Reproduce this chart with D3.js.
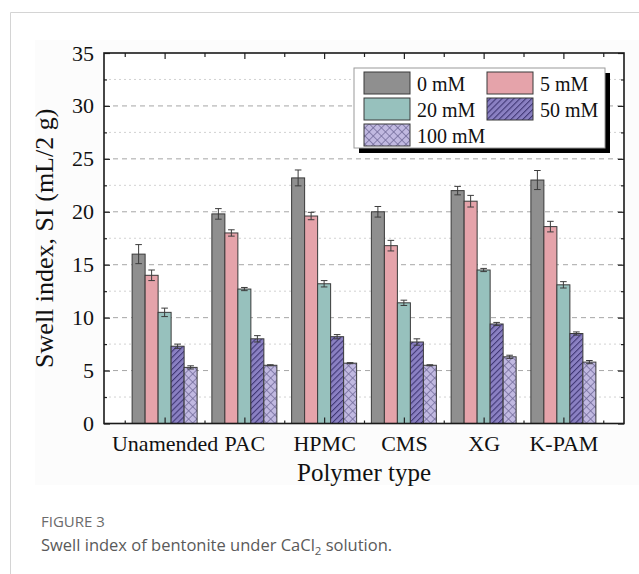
<!DOCTYPE html>
<html>
<head>
<meta charset="utf-8">
<script src="https://cdn.jsdelivr.net/npm/d3@7"></script>
<style>
  body { margin: 0; background: #ffffff; }
  svg { display: block; }
</style>
</head>
<body>
<svg id="chart" width="639" height="574"></svg>
<script>
// Swell index (mL/2 g) of bentonite with different polymers, by CaCl2 concentration
const categories = ["Unamended", "PAC", "HPMC", "CMS", "XG", "K-PAM"];
const seriesNames = ["0 mM", "5 mM", "20 mM", "50 mM", "100 mM"];

const si0mM   = [16.0, 19.8, 23.2, 20.0, 22.0, 23.0];
const si5mM   = [14.0, 18.0, 19.6, 16.8, 21.0, 18.6];
const si20mM  = [10.5, 12.7, 13.2, 11.4, 14.5, 13.1];
const si50mM  = [7.3, 8.0, 8.2, 7.7, 9.4, 8.5];
const si100mM = [5.3, 5.5, 5.7, 5.5, 6.3, 5.8];

const err0mM   = [0.9, 0.5, 0.75, 0.5, 0.4, 0.9];
const err5mM   = [0.5, 0.3, 0.35, 0.5, 0.55, 0.5];
const err20mM  = [0.4, 0.15, 0.3, 0.25, 0.15, 0.3];
const err50mM  = [0.2, 0.3, 0.2, 0.3, 0.15, 0.15];
const err100mM = [0.15, 0.05, 0.05, 0.05, 0.15, 0.15];

const yTicks = [0, 5, 10, 15, 20, 25, 30, 35];
const yMinorTicks = [2.5, 7.5, 12.5, 17.5, 22.5, 27.5, 32.5];

const seriesValues = [si0mM, si5mM, si20mM, si50mM, si100mM];
const seriesErrors = [err0mM, err5mM, err20mM, err50mM, err100mM];

const serif = "'Liberation Serif', 'Times New Roman', serif";
const sans = "'Open Sans', 'Noto Sans', sans-serif";

const svg = d3.select("#chart");

// card outline and figure background
svg.append("rect").attr("x", 35).attr("y", 40).attr("width", 604).attr("height", 445)
  .attr("fill", "#fcfcfc");
svg.append("path").attr("d", "M10.5,574 V12.5 H639")
  .attr("fill", "none").attr("stroke", "#d4d4d4").attr("stroke-width", 1);

const plot = { left: 104, right: 624, top: 53, bottom: 423.5 };

const x = d3.scaleLinear().domain([0.24, 6.76]).range([plot.left, plot.right]);
const y = d3.scaleLinear().domain([0, 35]).range([plot.bottom, plot.top]);
const inner = d3.scaleBand().domain(seriesNames).range([-32.5, 32.5]).paddingInner(0);

svg.append("rect").attr("x", plot.left).attr("y", plot.top)
  .attr("width", plot.right - plot.left).attr("height", plot.bottom - plot.top)
  .attr("fill", "#ffffff");

// patterns for the hatched series
const defs = svg.append("defs");
const p50 = defs.append("pattern").attr("id", "hatch50")
  .attr("patternUnits", "userSpaceOnUse").attr("width", 4.2).attr("height", 4.2)
  .attr("patternTransform", "rotate(45)");
p50.append("rect").attr("width", 4.2).attr("height", 4.2).attr("fill", "#8a80c2");
p50.append("line").attr("x1", 0.5).attr("y1", 0).attr("x2", 0.5).attr("y2", 4.2)
  .attr("stroke", "#3f3674").attr("stroke-width", 1.1);

const p100 = defs.append("pattern").attr("id", "cross100")
  .attr("patternUnits", "userSpaceOnUse").attr("width", 5.8).attr("height", 5.8)
  .attr("patternTransform", "rotate(45)");
p100.append("rect").attr("width", 5.8).attr("height", 5.8).attr("fill", "#c1b9e1");
p100.append("line").attr("x1", 0.4).attr("y1", 0).attr("x2", 0.4).attr("y2", 5.8)
  .attr("stroke", "#6f6896").attr("stroke-width", 0.8);
p100.append("line").attr("x1", 0).attr("y1", 0.4).attr("x2", 5.8).attr("y2", 0.4)
  .attr("stroke", "#6f6896").attr("stroke-width", 0.8);

const fills = ["#8f8f8f", "#e5a3aa", "#97c1bd", "url(#hatch50)", "url(#cross100)"];

// gridlines
svg.append("g").selectAll("line").data(yMinorTicks).join("line")
  .attr("x1", plot.left).attr("x2", plot.right)
  .attr("y1", d => y(d)).attr("y2", d => y(d))
  .attr("stroke", "#d2d2d2").attr("stroke-width", 1).attr("stroke-dasharray", "2,3");
svg.append("g").selectAll("line").data(yTicks.filter(d => d > 0 && d < 35)).join("line")
  .attr("x1", plot.left).attr("x2", plot.right)
  .attr("y1", d => y(d)).attr("y2", d => y(d))
  .attr("stroke", "#a6a6a6").attr("stroke-width", 1).attr("stroke-dasharray", "5,4");

// bars
const bars = svg.append("g");
seriesNames.forEach((s, si) => {
  const g = bars.append("g");
  g.selectAll("rect").data(categories).join("rect")
    .attr("x", (c, i) => x(i + 1) + inner(s))
    .attr("y", (c, i) => y(seriesValues[si][i]))
    .attr("width", inner.bandwidth())
    .attr("height", (c, i) => y(0) - y(seriesValues[si][i]))
    .attr("fill", fills[si])
    .attr("stroke", "#3a3a3a").attr("stroke-width", 1);
});

// error bars
const errG = svg.append("g").attr("stroke", "#3c3c3c").attr("stroke-width", 1).attr("fill", "none");
seriesNames.forEach((s, si) => {
  categories.forEach((c, i) => {
    const cx = x(i + 1) + inner(s) + inner.bandwidth() / 2;
    const v = seriesValues[si][i], e = seriesErrors[si][i];
    const y1 = y(v + e), y2 = y(v - e);
    errG.append("path")
      .attr("d", `M${cx},${y1}V${y2}M${cx - 3.3},${y1}H${cx + 3.3}M${cx - 3.3},${y2}H${cx + 3.3}`);
  });
});

// axes: ticks drawn inward on all four sides
const majorX = d3.range(1, 7);
const minorX = d3.range(0.5, 7, 1);

const axisStyle = g => {
  g.select(".domain").remove();
  g.selectAll(".tick line").attr("stroke", "#222").attr("stroke-width", 1.2);
};

svg.append("g").attr("transform", `translate(${plot.left},0)`)
  .call(d3.axisLeft(y).tickValues(yTicks).tickSize(-6).tickPadding(10).tickFormat(d3.format("d")))
  .call(axisStyle)
  .call(g => g.selectAll("text").attr("font-family", serif).attr("font-size", 22).attr("fill", "#111"));
svg.append("g").attr("transform", `translate(${plot.left},0)`)
  .call(d3.axisLeft(y).tickValues(yMinorTicks).tickSize(-3).tickFormat(""))
  .call(axisStyle);
svg.append("g").attr("transform", `translate(${plot.right},0)`)
  .call(d3.axisRight(y).tickValues(yTicks).tickSize(-6).tickFormat(""))
  .call(axisStyle);
svg.append("g").attr("transform", `translate(${plot.right},0)`)
  .call(d3.axisRight(y).tickValues(yMinorTicks).tickSize(-3).tickFormat(""))
  .call(axisStyle);

svg.append("g").attr("transform", `translate(0,${plot.bottom})`)
  .call(d3.axisBottom(x).tickValues(majorX).tickSize(-6).tickPadding(12)
    .tickFormat(d => categories[d - 1]))
  .call(axisStyle)
  .call(g => g.selectAll("text").attr("font-family", serif).attr("font-size", 22).attr("fill", "#111"));
svg.append("g").attr("transform", `translate(0,${plot.bottom})`)
  .call(d3.axisBottom(x).tickValues(minorX).tickSize(-3).tickFormat(""))
  .call(axisStyle);
svg.append("g").attr("transform", `translate(0,${plot.top})`)
  .call(d3.axisTop(x).tickValues(majorX).tickSize(-6).tickFormat(""))
  .call(axisStyle);
svg.append("g").attr("transform", `translate(0,${plot.top})`)
  .call(d3.axisTop(x).tickValues(minorX).tickSize(-4).tickFormat(""))
  .call(axisStyle);

// frame
svg.append("rect").attr("x", plot.left).attr("y", plot.top)
  .attr("width", plot.right - plot.left).attr("height", plot.bottom - plot.top)
  .attr("fill", "none").attr("stroke", "#1a1a1a").attr("stroke-width", 1.6);

// axis titles
svg.append("text").attr("x", (plot.left + plot.right) / 2).attr("y", 481)
  .attr("text-anchor", "middle").attr("font-family", serif).attr("font-size", 25)
  .attr("fill", "#111").text("Polymer type");
svg.append("text").attr("transform", `translate(53,${(plot.top + plot.bottom) / 2}) rotate(-90)`)
  .attr("text-anchor", "middle").attr("font-family", serif).attr("font-size", 26)
  .attr("fill", "#111").text("Swell index, SI (mL/2 g)");

// legend with drop shadow
const lg = svg.append("g");
lg.append("rect").attr("x", 359).attr("y", 73).attr("width", 251).attr("height", 80).attr("fill", "#000");
lg.append("rect").attr("x", 354).attr("y", 68).attr("width", 251).attr("height", 80)
  .attr("fill", "#fff").attr("stroke", "#9a9a9a").attr("stroke-width", 1);
const legendPos = [[364, 72], [487, 72], [364, 98], [487, 98], [364, 124]];
seriesNames.forEach((s, i) => {
  const [lx, ly] = legendPos[i];
  lg.append("rect").attr("x", lx).attr("y", ly).attr("width", 46).attr("height", 22)
    .attr("fill", fills[i]).attr("stroke", "#3a3a3a").attr("stroke-width", 1);
  lg.append("text").attr("x", lx + 53).attr("y", ly + 18.5)
    .attr("font-family", serif).attr("font-size", 20).attr("fill", "#111").text(s);
});

// caption
svg.append("text").attr("x", 41).attr("y", 527)
  .attr("font-family", sans).attr("font-size", 15).attr("fill", "#6b6b6b")
  .text("FIGURE 3");
const cap = svg.append("text").attr("x", 41).attr("y", 551)
  .attr("font-family", sans).attr("font-size", 16.5).attr("fill", "#5a5a5a");
cap.append("tspan").text("Swell index of bentonite under CaCl");
cap.append("tspan").attr("font-size", 11.5).attr("dy", 4).text("2");
cap.append("tspan").attr("dy", -4).text(" solution.");
</script>
</body>
</html>
